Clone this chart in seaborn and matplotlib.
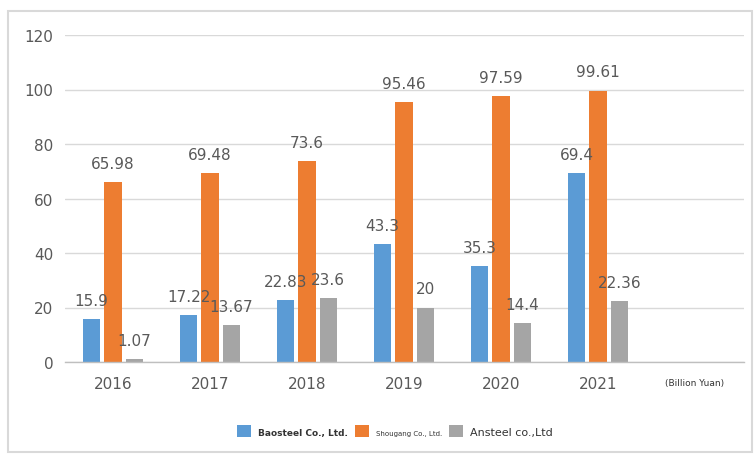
import matplotlib
matplotlib.use("Agg")
import matplotlib.pyplot as plt
import matplotlib.transforms as mtransforms
from matplotlib.patches import Rectangle
import seaborn as sns
import pandas as pd

years = ["2016", "2017", "2018", "2019", "2020", "2021"]
companies = ["Baosteel Co., Ltd.", "Shougang Co., Ltd.", "Ansteel co.,Ltd"]
baosteel = [15.9, 17.22, 22.83, 43.3, 35.3, 69.4]
shougang = [65.98, 69.48, 73.6, 95.46, 97.59, 99.61]
ansteel = [1.07, 13.67, 23.6, 20, 14.4, 22.36]
unit_label = "(Billion Yuan)"
colors = ["#5B9BD5", "#ED7D31", "#A5A5A5"]

rows = []
for name, vals in zip(companies, [baosteel, shougang, ansteel]):
    for y, v in zip(years, vals):
        rows.append({"Year": y, "Company": name, "Value": v})
df = pd.DataFrame(rows)

sns.set_style("white")
plt.rcParams["font.family"] = ["DejaVu Sans"]

fig = plt.figure(figsize=(7.55, 4.56), dpi=100)
ax = fig.add_axes([64.5 / 755, (456 - 363) / 456, (743.5 - 64.5) / 755, (363 - 36) / 456])

sns.barplot(data=df, x="Year", y="Value", hue="Company", order=years,
            hue_order=companies, palette=colors, width=0.66, gap=0.2,
            ax=ax, legend=True, saturation=1, linewidth=0, edgecolor="none")

ax.set_xlim(-0.5, 6.5)
ax.set_ylim(0, 120)
ax.set_yticks(range(0, 121, 20))
ax.yaxis.grid(True, color="#D9D9D9", linewidth=1)
ax.set_axisbelow(True)
for s in ["left", "right", "top"]:
    ax.spines[s].set_visible(False)
ax.spines["bottom"].set_color("#BFBFBF")
ax.spines["bottom"].set_linewidth(1)
ax.tick_params(axis="both", length=0, labelsize=11, colors="#595959")
ax.tick_params(axis="y", pad=8)
ax.tick_params(axis="x", pad=10)
ax.set_xlabel("")
ax.set_ylabel("")

for cont in ax.containers:
    ax.bar_label(cont, labels=[f"{v:g}" for v in cont.datavalues],
                 padding=8, fontsize=11, color="#595959")

trans = mtransforms.blended_transform_factory(ax.transData, ax.transAxes)
ax.text(6, -0.05, unit_label, transform=trans, ha="center", va="top",
        fontsize=6.5, color="#333333")

handles, labels = ax.get_legend_handles_labels()
ax.get_legend().remove()
leg = fig.legend(handles, labels, loc="center", bbox_to_anchor=(395 / 755, 1 - 432 / 456),
                 ncol=3, frameon=False, handlelength=1.0, handleheight=1.0,
                 columnspacing=0.5, handletextpad=0.5)
sizes = [6.5, 5, 8]
weights = ["bold", "normal", "normal"]
for t, s, w in zip(leg.get_texts(), sizes, weights):
    t.set_fontsize(s)
    t.set_fontweight(w)
    t.set_color("#333333")

fig.patches.append(Rectangle((8 / 755, 3 / 456), 744 / 755, 441 / 456,
                             transform=fig.transFigure, fill=False,
                             edgecolor="#D9D9D9", linewidth=1.5))

fig.savefig("out.png", dpi=100)
